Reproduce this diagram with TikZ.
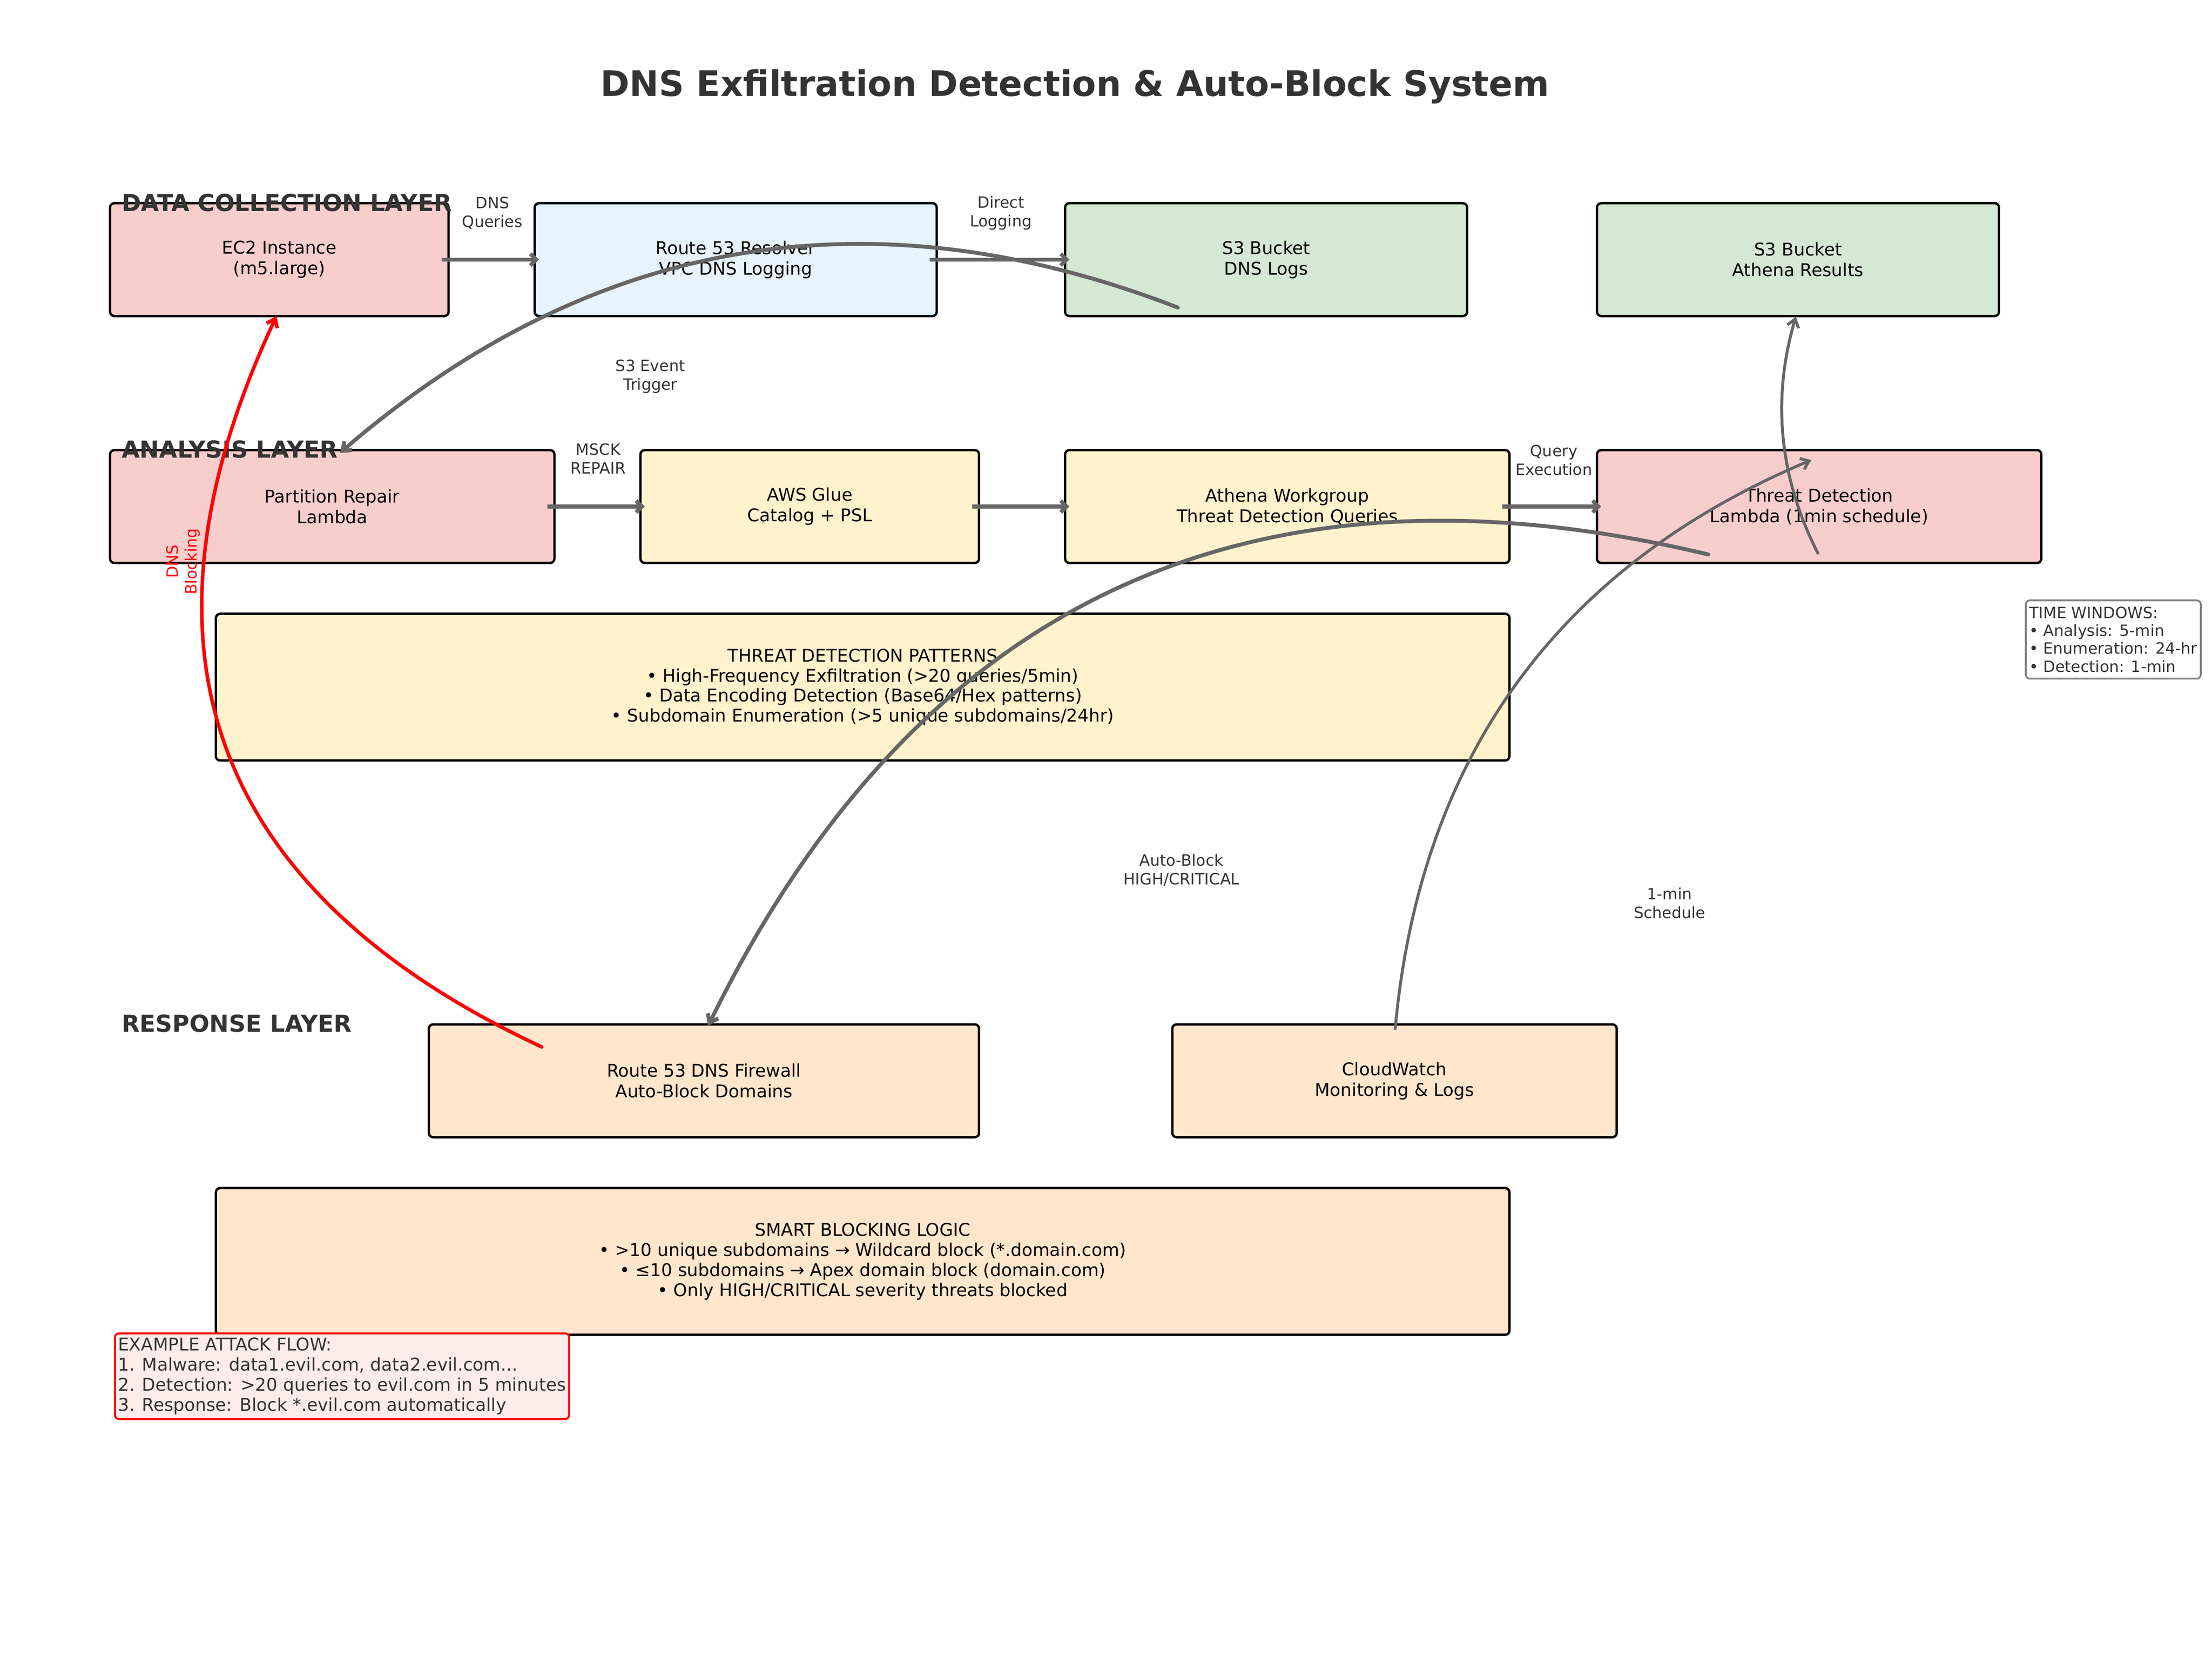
\documentclass[tikz,border=0pt]{standalone}
\usepackage{fontspec}
\setmainfont{DejaVu Sans}
\usetikzlibrary{arrows.meta,calc}
\definecolor{cpink}{HTML}{F8CECC}
\definecolor{cblue}{HTML}{E8F4FD}
\definecolor{cgreen}{HTML}{D5E8D4}
\definecolor{cyellow}{HTML}{FFF2CC}
\definecolor{corange}{HTML}{FFE6CC}
\definecolor{cexample}{HTML}{FDECEC}
\definecolor{carrow}{HTML}{666666}
\definecolor{ctext}{HTML}{333333}
\definecolor{cgrayedge}{HTML}{808080}
\begin{document}
\begin{tikzpicture}[x=0.7236pt, y=-0.7236pt,
  box/.style={draw=black, line width=1.2pt, rounded corners=2.2pt, inner sep=0pt, outer sep=0pt,
    align=center, font=\fontsize{9}{10.6}\selectfont, text=black, minimum height=57.89pt},
  w240/.style={minimum width=173.66pt},
  w285/.style={minimum width=206.23pt},
  w315/.style={minimum width=227.93pt},
  w390/.style={minimum width=282.20pt},
  wide/.style={minimum width=663.54pt, minimum height=75.25pt, font=\fontsize{9}{10.3}\selectfont},
  elabel/.style={align=center, inner sep=0pt, font=\fontsize{8}{9.6}\selectfont, text=ctext},
  layer/.style={anchor=west, inner sep=0pt, font=\fontsize{12}{14}\selectfont\bfseries, text=ctext},
  garrow/.style={draw=carrow, line cap=round, -{Straight Barb[length=4pt,width=6pt]}},
  sarrow/.style={draw=carrow, line width=2pt, -{Straight Barb[length=3pt,width=6pt]}},
  rarrow/.style={draw=red, line cap=round, -{Straight Barb[length=4pt,width=6pt]}},
  infobox/.style={rounded corners=2pt, inner sep=0pt, outer sep=0pt, align=left, text=ctext}
]
\useasboundingbox (0,0) rectangle (1568,1184);

% title
\node[anchor=base, inner sep=0pt, font=\fontsize{18}{21}\selectfont\bfseries, text=ctext] (title) at (762,68)
  {DNS Exfiltration Detection \& Auto-Block System};

% boxes
\node[box, w240, fill=cpink] (ec2) at (198,184) {EC2 Instance\\(m5.large)};
\node[box, w285, fill=cblue] (r53) at (521.5,184) {Route 53 Resolver\\VPC DNS Logging};
\node[box, w285, fill=cgreen] (s3logs) at (897.5,184) {S3 Bucket\\DNS Logs};
\node[box, w285, fill=cgreen] (s3res) at (1274.5,184) {S3 Bucket\\Athena Results};
\node[box, w315, fill=cpink] (prl) at (235.5,359) {Partition Repair\\Lambda};
\node[box, w240, fill=cyellow] (glue) at (574,359) {AWS Glue\\Catalog + PSL};
\node[box, w315, fill=cyellow] (athena) at (912.5,359) {Athena Workgroup\\Threat Detection Queries};
\node[box, w315, fill=cpink] (tdl) at (1289.5,359) {Threat Detection\\Lambda (1min schedule)};
\node[box, wide, fill=cyellow] (patterns) at (611.5,487)
  {THREAT DETECTION PATTERNS\\• High-Frequency Exfiltration (>20 queries/5min)\\• Data Encoding Detection (Base64/Hex patterns)\\• Subdomain Enumeration (>5 unique subdomains/24hr)};
\node[box, w390, fill=corange] (fw) at (499,766) {Route 53 DNS Firewall\\Auto-Block Domains};
\node[box, w315, fill=corange] (cw) at (988.5,766) {CloudWatch\\Monitoring \& Logs};
\node[box, wide, fill=corange] (smart) at (611.5,894)
  {SMART BLOCKING LOGIC\\• >10 unique subdomains → Wildcard block (*.domain.com)\\• ≤10 subdomains → Apex domain block (domain.com)\\• Only HIGH/CRITICAL severity threats blocked};

% layer labels
\node[layer] (lay1) at (86,143.6) {DATA COLLECTION LAYER};
\node[layer] (lay2) at (86,318.5) {ANALYSIS LAYER};
\node[layer] (lay3) at (86,725.5) {RESPONSE LAYER};

% straight arrows
\draw[sarrow] ($(ec2.east)+(-5,0)$) -- ($(r53.west)+(3,0)$);
\draw[sarrow] ($(r53.east)+(-5,0)$) -- ($(s3logs.west)+(3,0)$);
\draw[sarrow] ($(prl.east)+(-5,0)$) -- ($(glue.west)+(3,0)$);
\draw[sarrow] ($(glue.east)+(-5,0)$) -- ($(athena.west)+(3,0)$);
\draw[sarrow] ($(athena.east)+(-5,0)$) -- ($(tdl.west)+(3,0)$);

% curve end points
\coordinate (evA) at (835,218);
\coordinate (evB) at (241,321);
\coordinate (abA) at (1211,393);
\coordinate (abB) at (502,727);
\coordinate (cwA) at (989,729);
\coordinate (cwB) at (1284,326);
\coordinate (trA) at (1288.6,392);
\coordinate (trB) at (1273,224.5);
\coordinate (fbA) at (384,742);
\coordinate (fbB) at (196,224);

% curved arrows
\draw[garrow, line width=2pt] (evA) .. controls (616.4,133.5) and (418.4,167.9) .. (evB);
\draw[garrow, line width=2pt] (abA) .. controls (885.6,315.3) and (649.3,426.6) .. (abB);
\draw[garrow, line width=1.5pt] (cwA) .. controls (1006.7,535.7) and (1105.1,401.3) .. (cwB);
\draw[garrow, line width=1.5pt] (trA) .. controls (1261.1,338.3) and (1255.9,282.4) .. (trB);
\draw[rarrow, line width=1.8pt] (fbA) .. controls (148.7,632) and (86,459.3) .. (fbB);

% edge labels
\node[elabel] (lq) at (349,151) {DNS\\Queries};
\node[elabel] (ll) at (709.5,151) {Direct\\Logging};
\node[elabel] (lt) at (461,267) {S3 Event\\Trigger};
\node[elabel] (lm) at (424,325) {MSCK\\REPAIR};
\node[elabel] (le) at (1101.5,326) {Query\\Execution};
\node[elabel] (la) at (837.5,616.5) {Auto-Block\\HIGH/CRITICAL};
\node[elabel] (ls) at (1183.5,640) {1-min\\Schedule};
\node[elabel, text=red, rotate=90] (lb) at (130,398) {DNS\\Blocking};

% info boxes
\node[infobox, draw=cgrayedge, line width=0.9pt, fill=white, minimum width=89.73pt, minimum height=40.16pt,
  font=\fontsize{8}{9.2}\selectfont] (tw) at (1498,453.25)
  {TIME WINDOWS:\\• Analysis: 5-min\\• Enumeration: 24-hr\\• Detection: 1-min};
\node[infobox, draw=red, line width=1pt, fill=cexample, minimum width=232.93pt, minimum height=43.92pt,
  font=\fontsize{9}{10.3}\selectfont] (ex) at (242.45,975.35)
  {EXAMPLE ATTACK FLOW:\\1. Malware: data1.evil.com, data2.evil.com...\\2. Detection: >20 queries to evil.com in 5 minutes\\3. Response: Block *.evil.com automatically};
\end{tikzpicture}
\end{document}
